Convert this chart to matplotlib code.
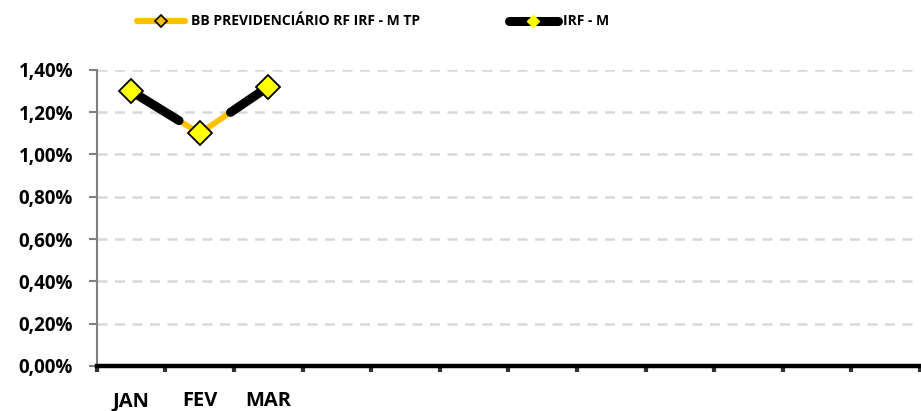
import matplotlib.pyplot as plt
from matplotlib.lines import Line2D
from matplotlib.ticker import FuncFormatter

# dados (rentabilidade mensal, %)
meses = ["JAN", "FEV", "MAR"]
fundo = [1.30, 1.10, 1.32]     # BB PREVIDENCIÁRIO RF IRF - M TP
indice = [1.30, 1.10, 1.32]    # IRF - M
n_slots = 12
yticks = [0.0, 0.2, 0.4, 0.6, 0.8, 1.0, 1.2, 1.4]

LARANJA = "#FFC000"
AMARELO = "#FFFF00"

plt.rcParams['font.family'] = ['Open Sans', 'DejaVu Sans']
plt.rcParams['font.weight'] = 'bold'

fig = plt.figure(figsize=(9.21, 4.11), dpi=100)
ax = fig.add_axes([0.105, 0.1095, 0.894, 0.7205])

x = list(range(len(meses)))

# linha do fundo (laranja)
ax.plot(x, fundo, color=LARANJA, linewidth=4.2, solid_capstyle='round', zorder=3)

# linha do indice (preta), desenhada parcialmente como no original
fracs = [0.7, 0.55]
ax.plot([x[0], x[0] + fracs[0] * (x[1] - x[0])],
        [indice[0], indice[0] + fracs[0] * (indice[1] - indice[0])],
        color="black", linewidth=6.5, solid_capstyle='round', zorder=4)
ax.plot([x[2], x[2] + fracs[1] * (x[1] - x[2])],
        [indice[2], indice[2] + fracs[1] * (indice[1] - indice[2])],
        color="black", linewidth=6.5, solid_capstyle='round', zorder=4)

# marcadores
ax.plot(x, indice, linestyle='none', marker='D', markersize=12.5,
        markerfacecolor=AMARELO, markeredgecolor="black", markeredgewidth=1.3, zorder=5)

ax.set_xlim(-0.5, n_slots - 0.5)
ax.set_ylim(0, 1.4)
ax.set_yticks(yticks)
ax.yaxis.set_major_formatter(FuncFormatter(lambda v, p: f"{v:.2f}%".replace(".", ",")))
ax.tick_params(axis='y', labelsize=13.5, length=6, width=1.5, color="#808080", pad=11)

ax.set_xticks(x)
ax.set_xticklabels(meses)
ax.set_xticks([i - 0.5 for i in range(n_slots + 1)], minor=True)
ax.tick_params(axis='x', which='major', length=0, labelsize=14.5, pad=18)
ax.tick_params(axis='x', which='minor', length=4, width=3, color="#333333")

ax.grid(axis='y', color="#D9D9D9", linewidth=1.8, linestyle=(0, (4, 3)))
ax.set_axisbelow(True)

for s in ['top', 'right']:
    ax.spines[s].set_visible(False)
ax.spines['left'].set_color("#808080")
ax.spines['left'].set_linewidth(1.5)
ax.spines['bottom'].set_color("black")
ax.spines['bottom'].set_linewidth(3.2)

handles = [
    Line2D([], [], color=LARANJA, linewidth=4.5, solid_capstyle='round', marker='D',
           markersize=6, markerfacecolor=LARANJA, markeredgecolor="black", markeredgewidth=1.2),
    Line2D([], [], color="black", linewidth=6.5, solid_capstyle='round', marker='D',
           markersize=6, markerfacecolor=AMARELO, markeredgecolor=AMARELO),
]
fig.legend(handles, ["BB PREVIDENCIÁRIO RF IRF - M TP", "IRF - M"],
           loc='center', bbox_to_anchor=(0.405, 0.948), ncol=2, frameon=False,
           fontsize=10, handlelength=3.5, handletextpad=0.4, columnspacing=6.4)

fig.savefig("out.png", dpi=100)
